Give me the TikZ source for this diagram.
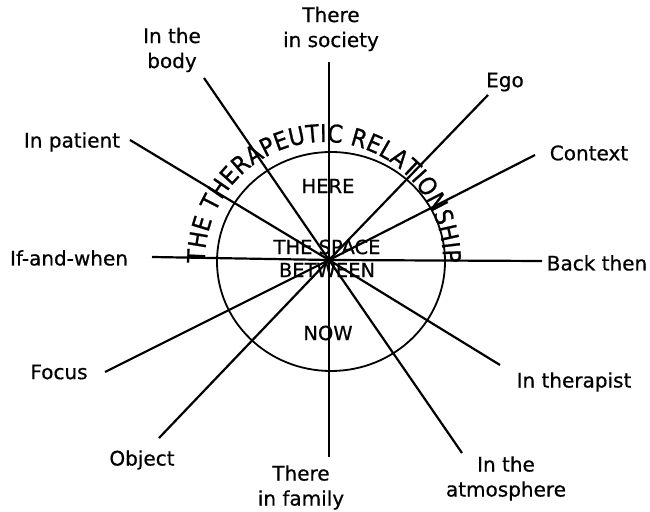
\documentclass[tikz,border=0pt]{standalone}
\usepackage{fontspec}
\setmainfont{DejaVu Sans}[FakeBold=0.6]
\newfontfamily\arcfont{DejaVu Sans Condensed}[FakeBold=0.8]
\usetikzlibrary{decorations.text}

\begin{document}
\begin{tikzpicture}[
    x=1pt, y=1pt,
    line width=2pt,
    spoke/.style={draw=black, line width=2.2pt},
    ring/.style={draw=black, line width=1.8pt},
    lbl/.style={font=\fontsize{20}{25}\selectfont, align=center, inner sep=1pt},
    zone/.style={font=\fontsize{19.5}{24}\selectfont, inner sep=1pt},
  ]
  \useasboundingbox (0,0) rectangle (650,511);

  % Hub, ring and the title running round it.
  \coordinate (hub) at (329,251);
  \draw[ring] (331,249.5) ellipse [x radius=114, y radius=109.5];
  \path[decorate, decoration={text along path, text align={fit to path},
        text={|\arcfont\fontsize{24.5}{24}\selectfont|THE THERAPEUTIC RELATIONSHIP}}]
    (324,250) ++(181:119) arc[start angle=181, end angle=-1, radius=119];

  % Free ends of the spokes.
  \coordinate (societyend) at (329,449);
  \coordinate (familyend)  at (329,54);
  \coordinate (bodyend)    at (204,433);
  \coordinate (atmosend)   at (462,58);
  \coordinate (patientend) at (130,371);
  \coordinate (therapend)  at (500,146);
  \coordinate (egoend)     at (488,416);
  \coordinate (objectend)  at (159,73);
  \coordinate (contextend) at (535,356);
  \coordinate (focusend)   at (105,139);
  \coordinate (ifend)      at (152,254);
  \coordinate (backend)    at (542,250);

  \foreach \e in {societyend,familyend,bodyend,atmosend,patientend,therapend,
                  egoend,objectend,contextend,focusend,ifend,backend}
    \draw[spoke] (hub) -- (\e);
  \fill (hub) circle[radius=4];

  % Zones inside the ring.
  \node[zone] (here)    at (328,325) {HERE};
  \node[zone] (space)   at (327,264) {THE SPACE};
  \node[zone] (between) at (327,241) {BETWEEN};
  \node[zone] (now)     at (328,178) {NOW};

  % Outer labels.
  \node[lbl] (society)   at (331,482)  {There\\in society};
  \node[lbl] (body)      at (172,461)  {In the\\body};
  \node[lbl] (patient)   at (72,369)   {In patient};
  \node[lbl] (ifwhen)    at (69,253)   {If-and-when};
  \node[lbl] (focus)     at (59,139)   {Focus};
  \node[lbl] (object)    at (142,51)   {Object};
  \node[lbl] (family)    at (301,23.5) {There\\in family};
  \node[lbl] (atmos)     at (506,32.5) {In the\\atmosphere};
  \node[lbl] (therapist) at (574,129)  {In therapist};
  \node[lbl] (backthen)  at (597,248)  {Back then};
  \node[lbl] (context)   at (589,358)  {Context};
  \node[lbl] (ego)       at (505,429)  {Ego};
\end{tikzpicture}
\end{document}
